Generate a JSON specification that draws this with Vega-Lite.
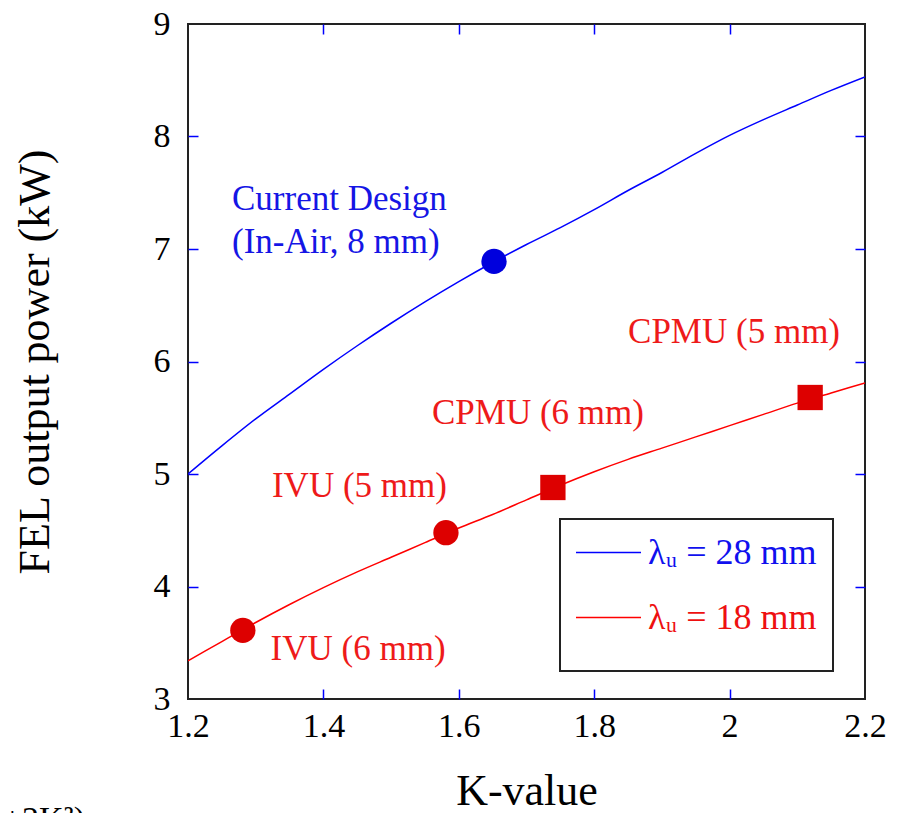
{
  "$schema": "https://vega.github.io/schema/vega-lite/v6.json",
  "autosize": {"type": "none"},
  "width": 677,
  "height": 675,
  "padding": {"left": 188, "top": 24, "right": 34, "bottom": 114},
  "background": "white",
  "config": {
    "view": {"stroke": "#222222", "strokeWidth": 2},
    "font": "Liberation Serif",
    "legend": {"labelFont": "Liberation Serif"},
    "axis": {
      "zindex": 1,
      "domain": false,
      "grid": false,
      "labelFont": "Liberation Serif",
      "labelFontSize": 34,
      "labelColor": "black",
      "titleFont": "Liberation Serif",
      "titleFontSize": 44,
      "titleFontWeight": "normal",
      "titleColor": "black",
      "ticks": true,
      "tickColor": "#0000ff",
      "tickWidth": 1.5,
      "tickSize": -10
    }
  },
  "datasets": {
    "curves": [
      {"K": 1.20, "P": 5.00, "s": "λᵤ = 28 mm"},
      {"K": 1.25, "P": 5.25, "s": "λᵤ = 28 mm"},
      {"K": 1.30, "P": 5.49, "s": "λᵤ = 28 mm"},
      {"K": 1.35, "P": 5.71, "s": "λᵤ = 28 mm"},
      {"K": 1.40, "P": 5.93, "s": "λᵤ = 28 mm"},
      {"K": 1.45, "P": 6.14, "s": "λᵤ = 28 mm"},
      {"K": 1.50, "P": 6.34, "s": "λᵤ = 28 mm"},
      {"K": 1.55, "P": 6.53, "s": "λᵤ = 28 mm"},
      {"K": 1.60, "P": 6.71, "s": "λᵤ = 28 mm"},
      {"K": 1.65, "P": 6.88, "s": "λᵤ = 28 mm"},
      {"K": 1.70, "P": 7.04, "s": "λᵤ = 28 mm"},
      {"K": 1.75, "P": 7.19, "s": "λᵤ = 28 mm"},
      {"K": 1.80, "P": 7.35, "s": "λᵤ = 28 mm"},
      {"K": 1.85, "P": 7.52, "s": "λᵤ = 28 mm"},
      {"K": 1.90, "P": 7.68, "s": "λᵤ = 28 mm"},
      {"K": 1.95, "P": 7.85, "s": "λᵤ = 28 mm"},
      {"K": 2.00, "P": 8.01, "s": "λᵤ = 28 mm"},
      {"K": 2.05, "P": 8.15, "s": "λᵤ = 28 mm"},
      {"K": 2.10, "P": 8.28, "s": "λᵤ = 28 mm"},
      {"K": 2.15, "P": 8.41, "s": "λᵤ = 28 mm"},
      {"K": 2.20, "P": 8.53, "s": "λᵤ = 28 mm"},
      {"K": 1.20, "P": 3.34, "s": "λᵤ = 18 mm"},
      {"K": 1.25, "P": 3.51, "s": "λᵤ = 18 mm"},
      {"K": 1.30, "P": 3.68, "s": "λᵤ = 18 mm"},
      {"K": 1.35, "P": 3.84, "s": "λᵤ = 18 mm"},
      {"K": 1.40, "P": 3.99, "s": "λᵤ = 18 mm"},
      {"K": 1.45, "P": 4.13, "s": "λᵤ = 18 mm"},
      {"K": 1.50, "P": 4.26, "s": "λᵤ = 18 mm"},
      {"K": 1.55, "P": 4.39, "s": "λᵤ = 18 mm"},
      {"K": 1.60, "P": 4.52, "s": "λᵤ = 18 mm"},
      {"K": 1.65, "P": 4.64, "s": "λᵤ = 18 mm"},
      {"K": 1.70, "P": 4.77, "s": "λᵤ = 18 mm"},
      {"K": 1.75, "P": 4.90, "s": "λᵤ = 18 mm"},
      {"K": 1.80, "P": 5.02, "s": "λᵤ = 18 mm"},
      {"K": 1.85, "P": 5.13, "s": "λᵤ = 18 mm"},
      {"K": 1.90, "P": 5.23, "s": "λᵤ = 18 mm"},
      {"K": 1.95, "P": 5.33, "s": "λᵤ = 18 mm"},
      {"K": 2.00, "P": 5.43, "s": "λᵤ = 18 mm"},
      {"K": 2.05, "P": 5.53, "s": "λᵤ = 18 mm"},
      {"K": 2.10, "P": 5.63, "s": "λᵤ = 18 mm"},
      {"K": 2.15, "P": 5.72, "s": "λᵤ = 18 mm"},
      {"K": 2.20, "P": 5.81, "s": "λᵤ = 18 mm"}
    ],
    "designs": [
      {"K": 1.652, "P": 6.89, "s": "λᵤ = 28 mm", "device": "In-Air"},
      {"K": 1.281, "P": 3.61, "s": "λᵤ = 18 mm", "device": "IVU"},
      {"K": 1.581, "P": 4.478, "s": "λᵤ = 18 mm", "device": "IVU"},
      {"K": 1.739, "P": 4.88, "s": "λᵤ = 18 mm", "device": "CPMU"},
      {"K": 2.119, "P": 5.68, "s": "λᵤ = 18 mm", "device": "CPMU"}
    ],
    "labels": [
      {"K": 1.265, "P": 7.347, "s": "λᵤ = 28 mm", "text": "Current Design\n(In-Air, 8 mm)"},
      {"K": 1.850, "P": 6.164, "s": "λᵤ = 18 mm", "text": "CPMU (5 mm)"},
      {"K": 1.5604, "P": 5.444, "s": "λᵤ = 18 mm", "text": "CPMU (6 mm)"},
      {"K": 1.324, "P": 4.796, "s": "λᵤ = 18 mm", "text": "IVU (5 mm)"},
      {"K": 1.322, "P": 3.347, "s": "λᵤ = 18 mm", "text": "IVU (6 mm)"}
    ],
    "fragment": [
      {"K": 1.048, "P": 2.076, "text": "+2K²)"}
    ]
  },
  "layer": [
    {
      "data": {"name": "curves"},
      "mark": {"type": "line", "strokeWidth": 1.5, "clip": true, "interpolate": "monotone"},
      "encoding": {
        "x": {
          "field": "K", "type": "quantitative",
          "scale": {"domain": [1.2, 2.2], "nice": false, "zero": false},
          "axis": {
            "orient": "bottom",
            "title": "K-value",
            "values": [1.2, 1.4, 1.6, 1.8, 2.0, 2.2],
            "format": "~g",
            "labelPadding": 20,
            "titlePadding": 26,
            "labelFlush": false,
            "tickColor": {"condition": {"test": "datum.value <= 1.2 || datum.value >= 2.2", "value": "transparent"}, "value": "#0000ff"}
          }
        },
        "y": {
          "field": "P", "type": "quantitative",
          "scale": {"domain": [3, 9], "nice": false, "zero": false},
          "axis": {
            "orient": "left",
            "title": "FEL output power (kW)",
            "values": [3, 4, 5, 6, 7, 8, 9],
            "format": "~g",
            "labelPadding": 28,
            "titlePadding": 96,
            "labelFlush": false,
            "tickColor": {"condition": {"test": "datum.value <= 3 || datum.value >= 9", "value": "transparent"}, "value": "#0000ff"}
          }
        },
        "color": {
          "field": "s", "type": "nominal",
          "scale": {"domain": ["λᵤ = 28 mm", "λᵤ = 18 mm"], "range": ["#0000ff", "#ff0000"]},
          "legend": {
            "title": "__________________________________________",
            "titleOrient": "bottom",
            "titleFontSize": 13,
            "titleFont": "Liberation Serif",
            "titleOpacity": 0,
            "titleLimit": 600,
            "titlePadding": 22,
            "orient": "none",
            "legendX": 372,
            "legendY": 495,
            "direction": "vertical",
            "symbolType": "stroke",
            "symbolSize": 4225,
            "symbolStrokeWidth": 1.5,
            "symbolOffset": 15,
            "labelFont": "Liberation Serif",
            "labelFontSize": 36,
            "labelLimit": 400,
            "labelOffset": 6,
            "rowPadding": 13,
            "padding": 0,
            "strokeColor": "#222222",
            "encode": {
              "legend": {"update": {"stroke": {"value": "#222222"}, "strokeWidth": {"value": 2}}},
              "labels": {"update": {"font": {"value": "Liberation Serif"}, "fill": {"signal": "datum.value == 'λᵤ = 28 mm' ? '#1010ee' : '#ee1010'"}}}
            }
          }
        },
        "detail": {"field": "s"}
      }
    },
    {
      "data": {"name": "designs"},
      "mark": {"type": "point", "filled": true, "opacity": 1},
      "encoding": {
        "x": {
          "field": "K", "type": "quantitative",
          "scale": {"domain": [1.2, 2.2], "nice": false, "zero": false},
          "axis": {
            "orient": "top", "title": null, "labels": false,
            "values": [1.4, 1.6, 1.8, 2.0]
          }
        },
        "y": {
          "field": "P", "type": "quantitative",
          "scale": {"domain": [3, 9], "nice": false, "zero": false},
          "axis": {
            "orient": "right", "title": null, "labels": false,
            "values": [4, 5, 6, 7, 8]
          }
        },
        "fill": {
          "field": "s", "type": "nominal",
          "scale": {"domain": ["λᵤ = 28 mm", "λᵤ = 18 mm"], "range": ["#0000dd", "#dd0000"]},
          "legend": null
        },
        "shape": {
          "field": "device", "type": "nominal",
          "scale": {"domain": ["In-Air", "IVU", "CPMU"], "range": ["circle", "circle", "square"]},
          "legend": null
        },
        "size": {
          "field": "device", "type": "nominal",
          "scale": {"domain": ["In-Air", "IVU", "CPMU"], "range": [640, 640, 784]},
          "legend": null
        }
      }
    },
    {
      "data": {"name": "labels"},
      "mark": {"type": "text", "align": "left", "baseline": "alphabetic", "fontSize": 35, "font": "Liberation Serif", "lineBreak": "\n", "lineHeight": 43},
      "encoding": {
        "x": {"field": "K", "type": "quantitative", "axis": null},
        "y": {"field": "P", "type": "quantitative", "axis": null},
        "text": {"field": "text"},
        "color": {
          "condition": {"test": "datum.s == 'λᵤ = 28 mm'", "value": "#1515e5"},
          "value": "#ee1a1a"
        }
      }
    },
    {
      "data": {"name": "fragment"},
      "mark": {"type": "text", "align": "right", "baseline": "top", "fontSize": 34, "font": "Liberation Serif", "color": "black", "clip": false},
      "encoding": {
        "x": {"field": "K", "type": "quantitative", "axis": null},
        "y": {"field": "P", "type": "quantitative", "axis": null},
        "text": {"field": "text"}
      }
    }
  ],
  "resolve": {"axis": {"x": "independent", "y": "independent"}}
}
